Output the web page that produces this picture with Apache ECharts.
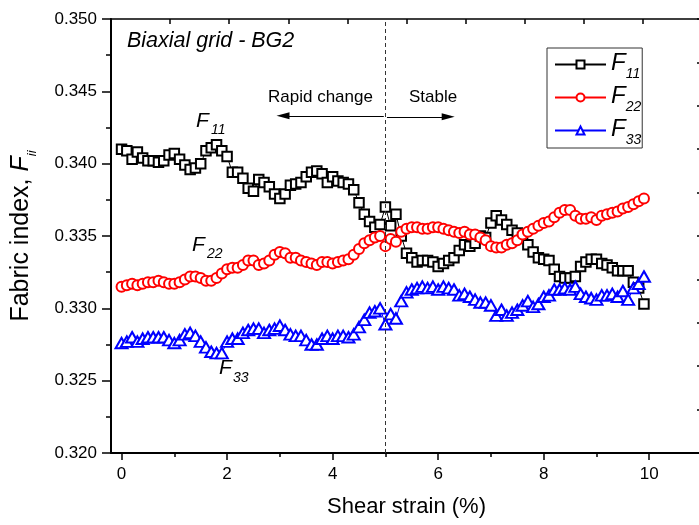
<!DOCTYPE html>
<html><head><meta charset="utf-8">
<script src="https://cdn.jsdelivr.net/npm/echarts@6/dist/echarts.min.js"></script>
<style>html,body{margin:0;padding:0;background:#fff}#c{width:699px;height:525px}</style>
</head><body><div id="c"></div>
<script>
const strain = [0.0,0.1,0.2,0.3,0.4,0.5,0.6,0.7,0.8,0.9,
1.0,1.1,1.2,1.3,1.4,1.5,1.6,1.7,1.8,1.9,
2.0,2.1,2.2,2.3,2.4,2.5,2.6,2.7,2.8,2.9,
3.0,3.1,3.2,3.3,3.4,3.5,3.6,3.7,3.8,3.9,
4.0,4.1,4.2,4.3,4.4,4.5,4.6,4.7,4.8,4.9,
5.0,5.1,5.2,5.3,5.4,5.5,5.6,5.7,5.8,5.9,
6.0,6.1,6.2,6.3,6.4,6.5,6.6,6.7,6.8,6.9,
7.0,7.1,7.2,7.3,7.4,7.5,7.6,7.7,7.8,7.9,
8.0,8.1,8.2,8.3,8.4,8.5,8.6,8.7,8.8,8.9,
9.0,9.1,9.2,9.3,9.4,9.5,9.6,9.7,9.8,9.9];

const F11 = [0.3410,0.3409,0.3403,0.3408,0.3404,0.3402,0.3402,0.3401,0.3402,0.3406,
0.3407,0.3403,0.3399,0.3396,0.3397,0.3400,0.3409,0.3411,0.3413,0.3409,
0.3405,0.3394,0.3394,0.3390,0.3383,0.3381,0.3389,0.3387,0.3384,0.3379,
0.3376,0.3379,0.3385,0.3386,0.3387,0.3391,0.3394,0.3395,0.3393,0.3387,
0.3391,0.3388,0.3387,0.3386,0.3382,0.3373,0.3365,0.3360,0.3356,0.3358,
0.3370,0.3357,0.3365,0.3350,0.3338,0.3335,0.3332,0.3333,0.3333,0.3332,
0.3329,0.3331,0.3333,0.3335,0.3340,0.3344,0.3343,0.3345,0.3350,0.3349,
0.3359,0.3364,0.3361,0.3358,0.3354,0.3352,0.3349,0.3344,0.3339,0.3335,
0.3334,0.3333,0.3327,0.3322,0.3321,0.3321,0.3322,0.3329,0.3332,0.3334,
0.3334,0.3331,0.3330,0.3328,0.3326,0.3326,0.3326,0.3318,0.3314,0.3303];

const F22 = [0.3315,0.3316,0.3317,0.3316,0.3317,0.3318,0.3318,0.3319,0.3318,0.3317,
0.3317,0.3318,0.3320,0.3322,0.3322,0.3321,0.3319,0.3319,0.3321,0.3324,
0.3327,0.3328,0.3328,0.3330,0.3333,0.3333,0.3330,0.3331,0.3333,0.3337,
0.3339,0.3338,0.3335,0.3335,0.3333,0.3332,0.3331,0.3330,0.3332,0.3332,
0.3331,0.3332,0.3333,0.3334,0.3337,0.3341,0.3345,0.3347,0.3349,0.3350,
0.3343,0.3348,0.3346,0.3353,0.3355,0.3356,0.3356,0.3355,0.3355,0.3356,
0.3356,0.3355,0.3354,0.3353,0.3352,0.3353,0.3351,0.3351,0.3349,0.3347,
0.3343,0.3342,0.3342,0.3344,0.3345,0.3347,0.3351,0.3353,0.3355,0.3357,
0.3359,0.3360,0.3363,0.3366,0.3368,0.3368,0.3364,0.3362,0.3362,0.3363,
0.3361,0.3364,0.3365,0.3366,0.3367,0.3369,0.3370,0.3372,0.3374,0.3376];

const F33 = [0.3276,0.3277,0.3280,0.3277,0.3279,0.3280,0.3280,0.3280,0.3280,0.3278,
0.3276,0.3278,0.3282,0.3283,0.3281,0.3277,0.3273,0.3270,0.3269,0.3269,
0.3277,0.3279,0.3279,0.3283,0.3285,0.3286,0.3286,0.3283,0.3285,0.3286,
0.3288,0.3285,0.3282,0.3281,0.3281,0.3278,0.3275,0.3275,0.3279,0.3281,
0.3279,0.3281,0.3281,0.3280,0.3282,0.3287,0.3292,0.3297,0.3298,0.3300,
0.3289,0.3296,0.3293,0.3305,0.3311,0.3313,0.3314,0.3315,0.3314,0.3315,
0.3313,0.3315,0.3314,0.3313,0.3309,0.3310,0.3308,0.3306,0.3304,0.3304,
0.3302,0.3295,0.3299,0.3295,0.3297,0.3299,0.3302,0.3305,0.3301,0.3303,
0.3308,0.3309,0.3313,0.3313,0.3314,0.3313,0.3315,0.3310,0.3308,0.3307,
0.3306,0.3309,0.3309,0.3310,0.3308,0.3312,0.3306,0.3314,0.3317,0.3322];

const seriesNames = ['F11','F22','F33'];
const xMajorTicks = [0,2,4,6,8,10];
const xMinorTicks = [1,3,5,7,9];
const boundaryStrain = 5;
// annotation arrows (data coordinates): [start, end]
const arrowLeft = [[4.97,0.34331],[3.06,0.34331]];
const arrowRight = [[5.03,0.34324],[6.19,0.34324]];

const FONT = '"Liberation Sans", Arial, sans-serif';
const chart = echarts.init(document.getElementById('c'), null, {renderer:'canvas'});

function pts(ys){ return strain.map((x,i)=>[x, ys[i]]); }

const axisLineStyle = {color:'#000', width:2};
const option = {
  animation:false,
  backgroundColor:'#fff',
  textStyle:{fontFamily:FONT},
  grid:{left:111, top:19, right:-3, bottom:72, containLabel:false, outerBoundsMode:'none'},
  xAxis:[
    {type:'value', position:'bottom', min:-0.2, max:11,
     axisLine:{show:true, onZero:false, lineStyle:axisLineStyle},
     axisTick:{show:true, inside:false, length:7, customValues:xMajorTicks, lineStyle:{color:'#000', width:1.5}},
     axisLabel:{show:true, customValues:xMajorTicks, margin:13, color:'#000', fontSize:17, fontFamily:FONT},
     splitLine:{show:false},
     name:'Shear strain (%)', nameLocation:'middle', nameGap:43,
     nameTextStyle:{fontSize:22, color:'#000', fontFamily:FONT}},
    {type:'value', position:'bottom', min:-0.2, max:11,
     axisLine:{show:false, onZero:false},
     axisTick:{show:true, inside:false, length:4, customValues:xMinorTicks, lineStyle:{color:'#000', width:1.5}},
     axisLabel:{show:false}, splitLine:{show:false}},
    {type:'value', position:'top', min:0, max:10, interval:1,
     axisLine:{show:true, onZero:false, lineStyle:{color:'#000', width:1.5}},
     axisTick:{show:true, inside:true, length:5, lineStyle:{color:'#000', width:1.5}},
     axisLabel:{show:false}, splitLine:{show:false}}
  ],
  yAxis:[
    {type:'value', position:'left', min:0.320, max:0.350, interval:0.005,
     axisLine:{show:true, onZero:false, lineStyle:axisLineStyle},
     axisTick:{show:true, inside:false, length:9, lineStyle:{color:'#000', width:1.5}},
     minorTick:{show:true, splitNumber:2, length:5, lineStyle:{color:'#000', width:1.5}},
     axisLabel:{show:true, margin:14, color:'#000', fontSize:17, fontFamily:FONT, formatter:v=>v.toFixed(3)},
     splitLine:{show:false}, minorSplitLine:{show:false},
     name:'{a|Fabric index, }{b|F}{c|ii}', nameLocation:'middle', nameGap:74, nameRotate:90,
     nameTextStyle:{color:'#000', fontFamily:FONT, fontSize:25,
       rich:{a:{fontSize:25, fontFamily:FONT, color:'#000', lineHeight:25, padding:[0,0,7,0]},
             b:{fontSize:25, fontFamily:FONT, fontStyle:'italic', color:'#000', lineHeight:25, padding:[0,0,7,0]},
             c:{fontSize:13, fontFamily:FONT, fontStyle:'italic', color:'#000', lineHeight:13, padding:[17,0,2,0]}}}},
    {type:'value', position:'right', min:0, max:10, interval:1,
     axisLine:{show:true, onZero:false, lineStyle:{color:'#000', width:1.5}},
     axisTick:{show:true, inside:true, length:5, lineStyle:{color:'#000', width:1.5}},
     axisLabel:{show:false}, splitLine:{show:false}}
  ],
  legend:{
    orient:'vertical', left:547, top:48, padding:[0,1,1,7], itemGap:0,
    itemWidth:51, itemHeight:10, selectedMode:false,
    backgroundColor:'#fff', borderColor:'#333', borderWidth:1, borderRadius:0,
    data:seriesNames, lineStyle:{width:2},
    formatter:n=>'{f|F}{s|'+n.slice(1)+'}',
    textStyle:{color:'#000', fontFamily:FONT,
      rich:{f:{fontSize:24, fontStyle:'italic', fontFamily:FONT, color:'#000', lineHeight:24, padding:[3,0,6,0]},
            s:{fontSize:14, fontStyle:'italic', fontFamily:FONT, color:'#000', lineHeight:14, padding:[19,0,0,0]}}}
  },
  series:[
    {name:'F11', type:'line', data:pts(F11), xAxisIndex:0, yAxisIndex:0,
     symbol:'emptyRect', symbolSize:9.5, itemStyle:{color:'#000', borderWidth:1.3},
     lineStyle:{color:'#000', width:1}, emphasis:{disabled:true}, z:3,
     markLine:{silent:true, symbol:['none','none'], label:{show:false}, emphasis:{disabled:true},
       lineStyle:{color:'#000', width:1, type:'solid'},
       data:[
         {xAxis:boundaryStrain, lineStyle:{type:[4,3], color:'#333', width:1}},
         [{coord:arrowLeft[0], symbol:'none'}, {coord:arrowLeft[1], symbol:'triangle', symbolSize:[7,13]}],
         [{coord:arrowRight[0], symbol:'none'}, {coord:arrowRight[1], symbol:'triangle', symbolSize:[7,13]}]
       ]}},
    {name:'F22', type:'line', data:pts(F22), xAxisIndex:0, yAxisIndex:0,
     symbol:'emptyCircle', symbolSize:10, itemStyle:{color:'#ff0000', borderWidth:1.3},
     lineStyle:{color:'#ff0000', width:1}, emphasis:{disabled:true}, z:3},
    {name:'F33', type:'line', data:pts(F33), xAxisIndex:0, yAxisIndex:0,
     symbol:'emptyTriangle', symbolSize:[12,10.5], itemStyle:{color:'#0000ff', borderWidth:1.3},
     lineStyle:{color:'#0000ff', width:1}, emphasis:{disabled:true}, z:3}
  ],
  graphic:[
    {type:'text', x:127, y:41, style:{text:'Biaxial grid - BG2', font:'italic 21.5px '+FONT, fill:'#000', align:'left', verticalAlign:'middle'}},
    {type:'text', x:268, y:97, style:{text:'Rapid change', font:'17px '+FONT, fill:'#000', align:'left', verticalAlign:'middle'}},
    {type:'text', x:409, y:97, style:{text:'Stable', font:'17px '+FONT, fill:'#000', align:'left', verticalAlign:'middle'}},
    {type:'text', x:196, y:121, style:{text:'F', font:'italic 21px '+FONT, fill:'#000', align:'left', verticalAlign:'middle'}},
    {type:'text', x:211, y:130, style:{text:'11', font:'italic 14px '+FONT, fill:'#000', align:'left', verticalAlign:'middle'}},
    {type:'text', x:192, y:245, style:{text:'F', font:'italic 21px '+FONT, fill:'#000', align:'left', verticalAlign:'middle'}},
    {type:'text', x:207, y:254, style:{text:'22', font:'italic 14px '+FONT, fill:'#000', align:'left', verticalAlign:'middle'}},
    {type:'text', x:219, y:368, style:{text:'F', font:'italic 21px '+FONT, fill:'#000', align:'left', verticalAlign:'middle'}},
    {type:'text', x:233, y:378, style:{text:'33', font:'italic 14px '+FONT, fill:'#000', align:'left', verticalAlign:'middle'}}
  ]
};
chart.setOption(option);
</script>
</body></html>
